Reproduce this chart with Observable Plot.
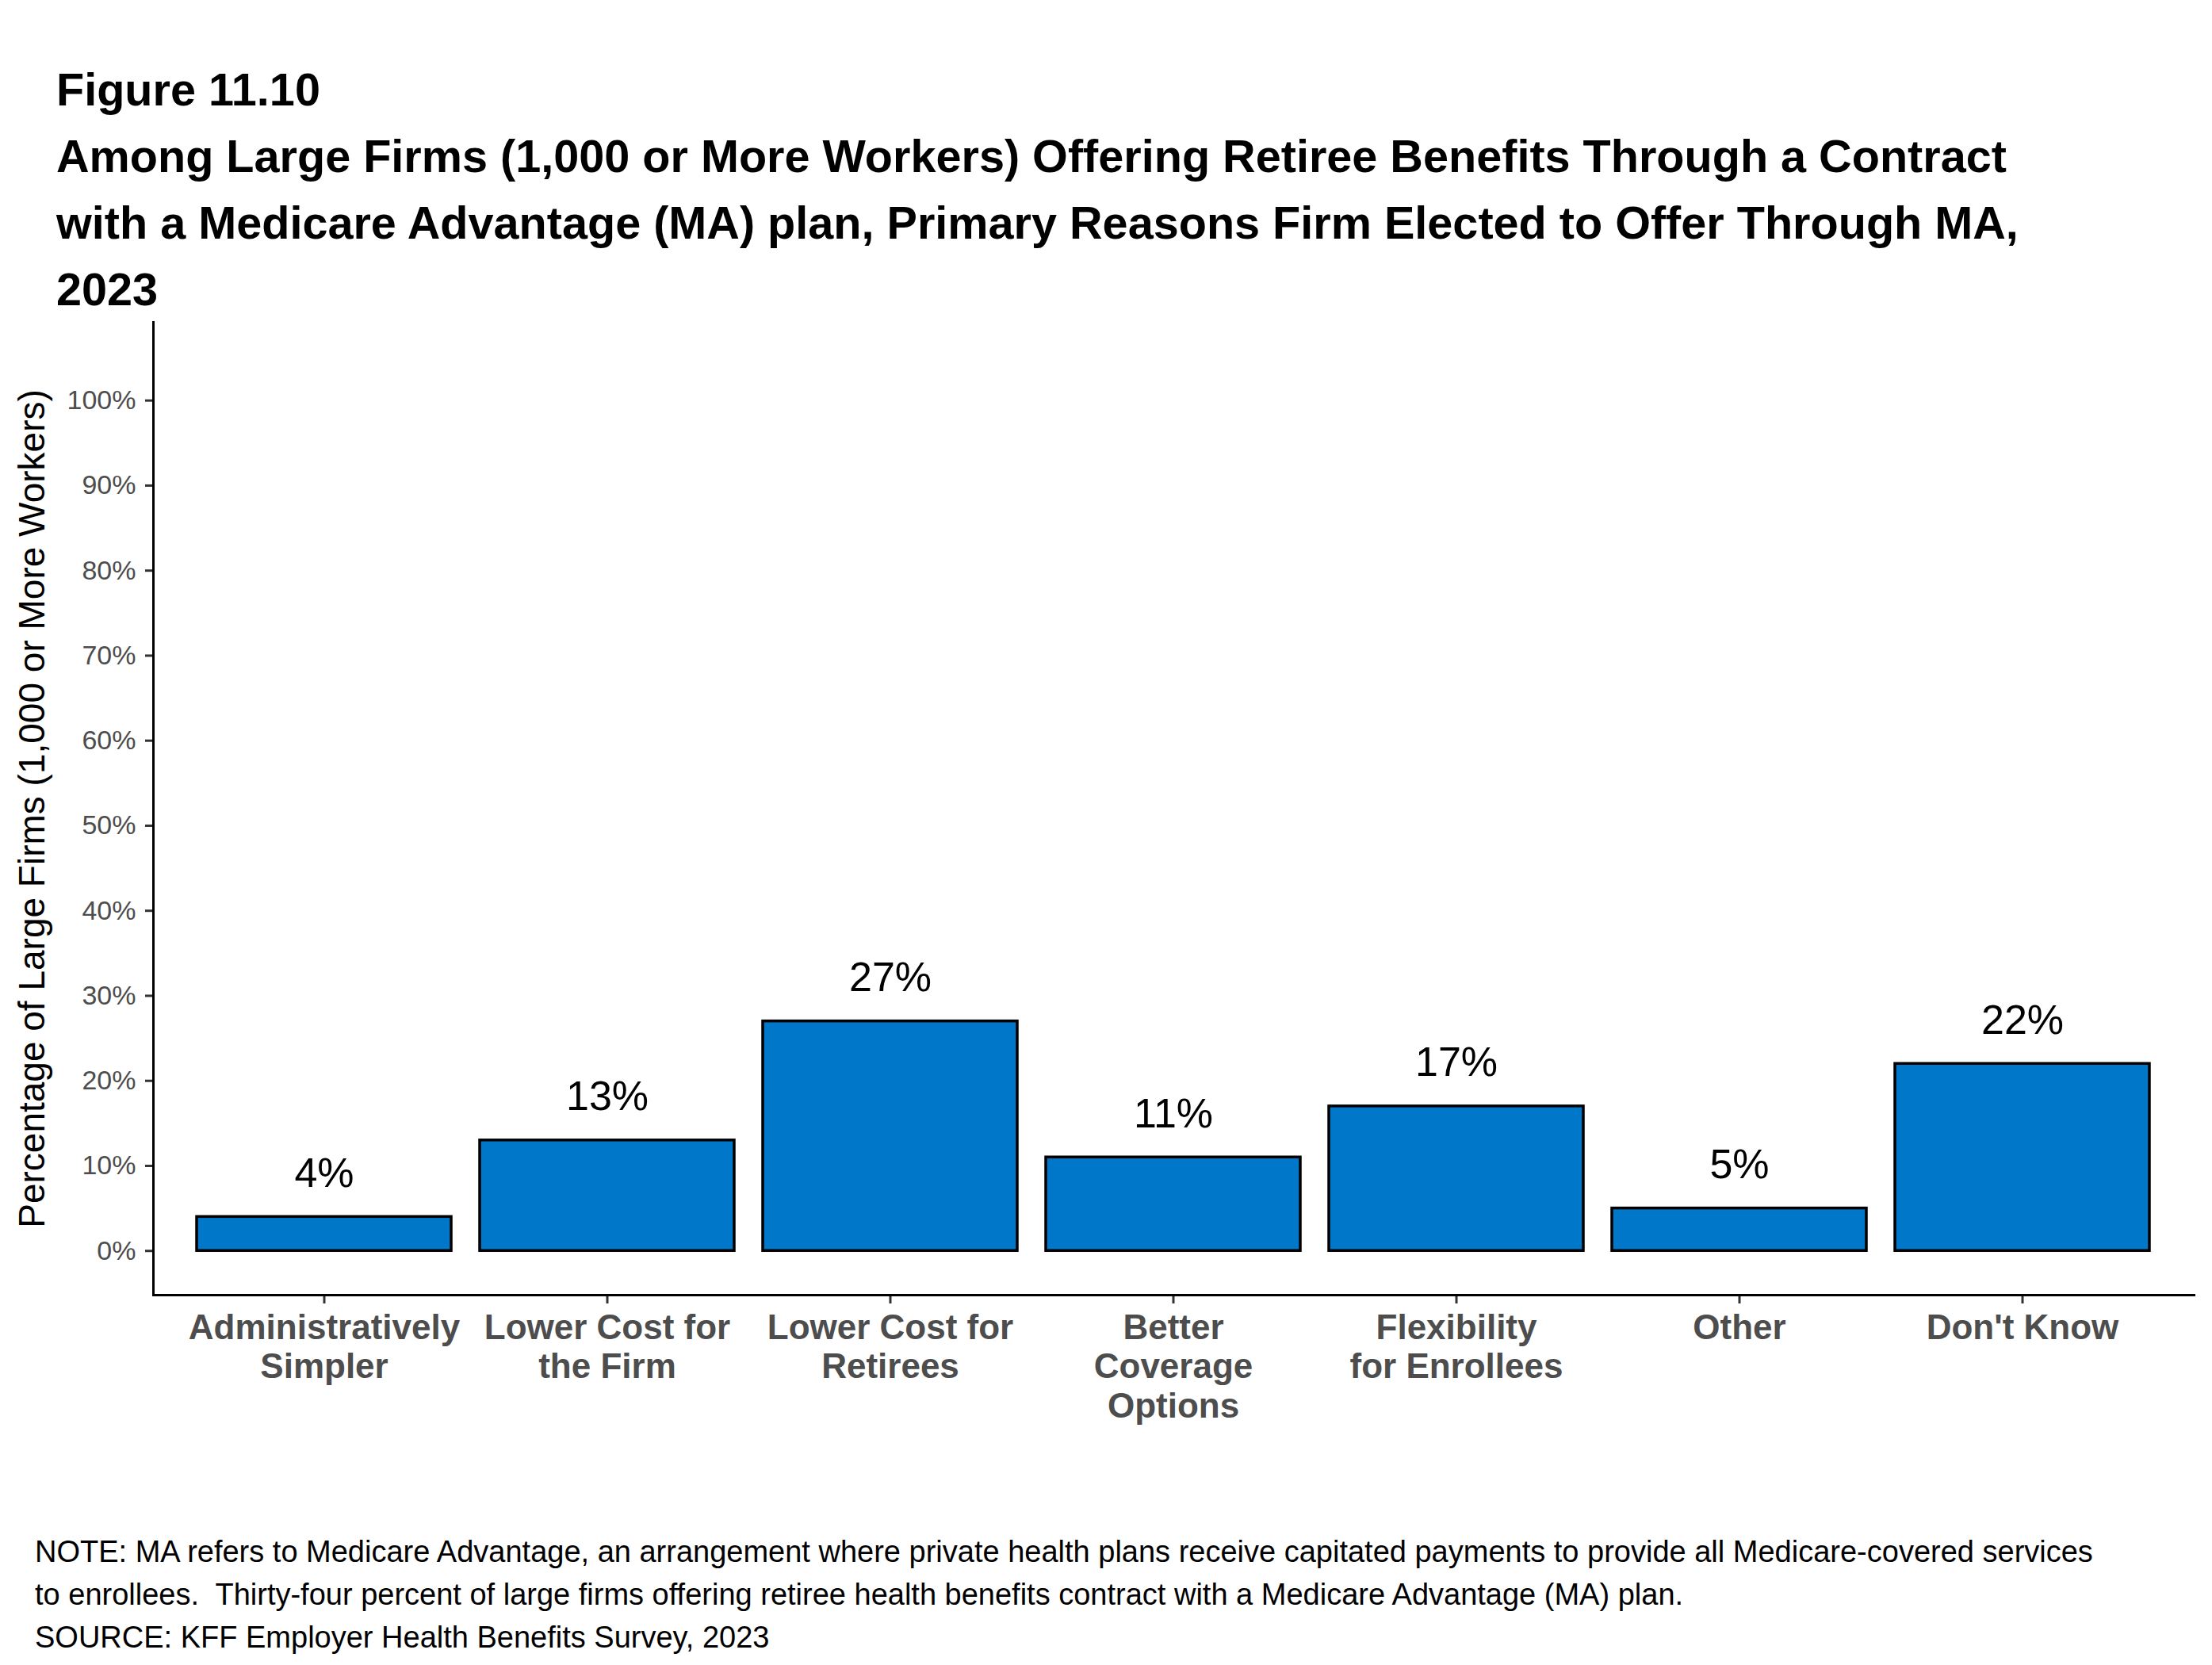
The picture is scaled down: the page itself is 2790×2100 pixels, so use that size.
<!DOCTYPE html>
<html>
<head>
<meta charset="utf-8">
<script src="https://cdn.jsdelivr.net/npm/d3@7"></script>
<script src="https://cdn.jsdelivr.net/npm/@observablehq/plot@0.6"></script>
<style>
  html, body { margin: 0; padding: 0; background: #ffffff; }
  body { width: 2790px; height: 2100px; overflow: hidden; font-family: "Liberation Sans", Arial, sans-serif; }
  #title { height: 396px; overflow: visible; padding: 71px 0 0 71px; box-sizing: border-box; font-weight: bold; font-size: 57.6px; line-height: 84px; color: #000; white-space: nowrap; }
  #caption { margin-top: 127px; padding-left: 44px; font-size: 38px; line-height: 54px; color: #000; white-space: nowrap; }
  #chart svg { display: block; }
</style>
</head>
<body>
<div id="title">Figure 11.10<br>Among Large Firms (1,000 or More Workers) Offering Retiree Benefits Through a Contract<br>with a Medicare Advantage (MA) plan, Primary Reasons Firm Elected to Offer Through MA,<br>2023</div>
<div id="chart"></div>
<div id="caption">NOTE: MA refers to Medicare Advantage, an arrangement where private health plans receive capitated payments to provide all Medicare-covered services<br>to enrollees.&nbsp; Thirty-four percent of large firms offering retiree health benefits contract with a Medicare Advantage (MA) plan.<br>SOURCE: KFF Employer Health Benefits Survey, 2023</div>
<script>
const categories = ["Administratively Simpler", "Lower Cost for the Firm", "Lower Cost for Retirees", "Better Coverage Options", "Flexibility for Enrollees", "Other", "Don't Know"];
const tickLabels = ["Administratively\nSimpler", "Lower Cost for\nthe Firm", "Lower Cost for\nRetirees", "Better\nCoverage\nOptions", "Flexibility\nfor Enrollees", "Other", "Don't Know"];
const values = [4, 13, 27, 11, 17, 5, 22];
const yTicks = [0, 10, 20, 30, 40, 50, 60, 70, 80, 90, 100];
const yTitle = "Percentage of Large Firms (1,000 or More Workers)";

const data = categories.map((c, i) => ({category: c, value: values[i]}));

const chart = Plot.plot({
  width: 2790,
  height: 1407,
  marginTop: 10,
  marginLeft: 193,
  marginRight: 23,
  marginBottom: 170,
  style: {fontFamily: "'Liberation Sans', Arial, sans-serif", background: "#ffffff", color: "#000000"},
  x: {domain: categories, paddingInner: 0.1, paddingOuter: 0.15, label: null},
  y: {domain: [-5.2, 109.2], label: null},
  marks: [
    Plot.barY(data, {x: "category", y: "value", fill: "#0077C8", stroke: "#000000", strokeWidth: 3.5}),
    Plot.text(data, {x: "category", y: "value", text: d => d.value + "%", dy: -38, lineAnchor: "bottom", fontSize: 52, fill: "#000000"}),
    Plot.axisY({ticks: yTicks, tickFormat: d => d + "%", tickSize: 10, tickPadding: 12, fontSize: 34, stroke: "#333333", fill: "#4d4d4d", strokeWidth: 3, label: null}),
    Plot.axisX({tickSize: 11, tickPadding: 9, tickFormat: d => tickLabels[categories.indexOf(d)], fontSize: 44, fontWeight: "bold", lineHeight: 1.125, stroke: "#333333", fill: "#4d4d4d", strokeWidth: 3, label: null}),
    Plot.frame({anchor: "left", stroke: "#000000", strokeWidth: 3}),
    Plot.frame({anchor: "bottom", stroke: "#000000", strokeWidth: 3}),
    Plot.text([yTitle], {text: d => d, frameAnchor: "left", rotate: -90, dx: -152, fontSize: 46, textAnchor: "middle", lineAnchor: "middle", fill: "#000000"})
  ]
});
document.getElementById("chart").appendChild(chart);
</script>
</body>
</html>
